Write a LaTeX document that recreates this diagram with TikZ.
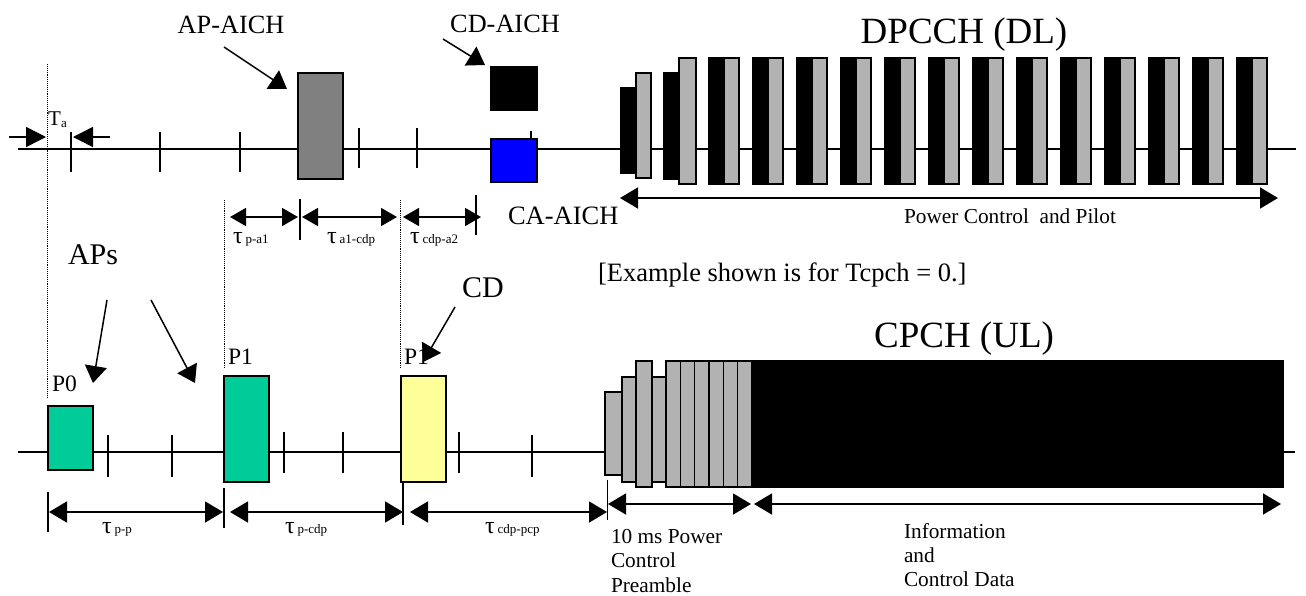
\documentclass[tikz,border=0pt]{standalone}
\usepackage{fontspec}
\setmainfont{Liberation Serif}
\usetikzlibrary{arrows.meta}
\definecolor{apgreen}{RGB}{0,204,153}
\definecolor{cdyellow}{RGB}{255,255,153}
\definecolor{midgray}{RGB}{128,128,128}
\definecolor{litegray}{RGB}{178,178,178}
\newcommand\myfs[1]{\fontsize{#1}{#1}\selectfont}
\begin{document}
\begin{tikzpicture}[x=1pt,y=-1pt,
 axisline/.style={line width=1.6pt},
 tickmark/.style={line width=1.2pt},
 bx/.style={draw=black,line width=1.4pt,inner sep=0pt,outer sep=0pt,anchor=north west},
 dotline/.style={line width=0.9pt,densely dotted},
 dimarrow/.style={line width=1.6pt,{Triangle[length=16pt,width=18pt]}-{Triangle[length=16pt,width=18pt]}},
 bigdim/.style={line width=1.6pt,{Triangle[length=18pt,width=21pt]}-{Triangle[length=18pt,width=21pt]}},
 leader/.style={line width=1.5pt,-{Triangle[length=17pt,width=22pt]}},
 taarrow/.style={line width=1.5pt,-{Triangle[length=20pt,width=20pt]}},
 lbl/.style={inner sep=0pt,outer sep=0pt,anchor=base west},
 ctr/.style={inner sep=0pt,outer sep=0pt,anchor=base},
]
\path[fill=white,use as bounding box] (0,0) rectangle (1306,595);

% ---------- time axes ----------
\coordinate (dlS) at (18,149); \coordinate (dlE) at (1296,149);
\coordinate (ulS) at (18,452); \coordinate (ulE) at (1295,452);
\draw[axisline] (dlS) -- (dlE);
\draw[axisline] (ulS) -- (ulE);

% ticks on DL axis
\foreach \x/\a/\b in {71/132/172,160/132/172,240/132/172,359/128/168,417/128/168,531/131/172}
  \draw[tickmark] (\x,\a) -- (\x,\b);
% ticks on UL axis
\foreach \x/\a/\b in {108/435/477,172/435/477,284/432/473,343/432/473,459/432/473,532/435/477}
  \draw[tickmark] (\x,\a) -- (\x,\b);

% dotted reference lines
\draw[dotline] (47,64) -- (47,397);
\draw[dotline] (224,200) -- (224,368);
\draw[dotline] (400,200) -- (400,368);

% ---------- DL boxes ----------
\node[bx,fill=midgray,minimum width=45pt,minimum height=106pt] (apaich) at (298,73) {};
\node[bx,fill=black,minimum width=46pt,minimum height=43pt] (cdaich) at (491,67) {};
\node[bx,fill=blue,minimum width=46pt,minimum height=43pt] (caaich) at (491,139) {};

% DPCCH ramp
\node[bx,fill=black,minimum width=15pt,minimum height=85pt] (db1) at (621,88) {};
\node[bx,fill=litegray,minimum width=15pt,minimum height=105pt] (dg1) at (636,73) {};
\node[bx,fill=black,minimum width=15pt,minimum height=106pt] (db2) at (664,73) {};
\node[bx,fill=litegray,minimum width=17pt,minimum height=126pt] (dg2) at (679,58) {};
\foreach \k in {0,...,12}{
  \pgfmathsetmacro\xx{709+44*\k}
  \node[bx,fill=black,minimum width=15pt,minimum height=126pt] (db\k) at (\xx,58) {};
  \node[bx,fill=litegray,minimum width=15pt,minimum height=126pt] (dgr\k) at (\xx+15,58) {};
}

% ---------- UL boxes ----------
\node[bx,fill=apgreen,minimum width=45pt,minimum height=64pt] (p0) at (48,406) {};
\node[bx,fill=apgreen,minimum width=45pt,minimum height=106pt] (p1) at (224,376) {};
\node[bx,fill=cdyellow,minimum width=45pt,minimum height=106pt] (pcd) at (401,376) {};

% CPCH power control preamble
\node[bx,fill=litegray,minimum width=17pt,minimum height=83pt] (r1) at (605,392) {};
\node[bx,fill=litegray,minimum width=14pt,minimum height=105pt] (r2) at (622,377) {};
\node[bx,fill=litegray,minimum width=14pt,minimum height=105pt] (r4) at (652,377) {};
\node[bx,fill=litegray,minimum width=16pt,minimum height=126pt] (r3) at (636,361) {};
\foreach \i in {0,...,5}{
  \pgfmathsetmacro\xx{666+14.33*\i}
  \node[bx,fill=litegray,minimum width=14.33pt,minimum height=126pt] (rp\i) at (\xx,361) {};
}
\node[bx,fill=black,minimum width=531pt,minimum height=126pt] (data) at (752,361) {};

% ---------- Ta ----------
\coordinate (taL1) at (9,137);   \coordinate (taL2) at (46,137);
\coordinate (taR1) at (110,137); \coordinate (taR2) at (73,137);
\draw[taarrow] (taL1) -- (taL2);
\draw[taarrow] (taR1) -- (taR2);
\node[lbl,font=\myfs{21}] (ta) at (48,125) {T};
\node[lbl,font=\myfs{13}] (tasub) at (61,127) {a};

% ---------- DL dimension arrows ----------
\coordinate (ua1) at (230,217); \coordinate (ua2) at (298,217);
\coordinate (ub1) at (302,217); \coordinate (ub2) at (397,217);
\coordinate (uc1) at (403,217); \coordinate (uc2) at (481,217);
\draw[dimarrow] (ua1) -- (ua2);
\draw[dimarrow] (ub1) -- (ub2);
\draw[dimarrow] (uc1) -- (uc2);
\draw[tickmark,line width=1.5pt] (300,199) -- (300,240);
\draw[tickmark,line width=1.5pt] (476,195) -- (476,235);
\coordinate (pc1) at (620,198); \coordinate (pc2) at (1278,198);
\draw[bigdim] (pc1) -- (pc2);

% ---------- UL dimension arrows ----------
\coordinate (la1) at (49,512);  \coordinate (la2) at (223,512);
\coordinate (lb1) at (230,512); \coordinate (lb2) at (403,512);
\coordinate (lc1) at (410,512); \coordinate (lc2) at (607,512);
\draw[bigdim] (la1) -- (la2);
\draw[bigdim] (lb1) -- (lb2);
\draw[bigdim] (lc1) -- (lc2);
\draw[tickmark,line width=1.5pt] (48,492) -- (48,532);
\draw[tickmark,line width=1.5pt] (224,488) -- (224,528);
\draw[tickmark,line width=1.5pt] (403,483) -- (403,525);
\draw[tickmark,line width=1.5pt] (607.5,480) -- (607.5,520);
\coordinate (pp1) at (608,504); \coordinate (pp2) at (751,504);
\coordinate (id1) at (754,504); \coordinate (id2) at (1281,504);
\draw[bigdim] (pp1) -- (pp2);
\draw[bigdim] (id1) -- (id2);

% ---------- labels ----------
\node[ctr,font=\myfs{26.3}] (lapaich) at (231,33) {AP-AICH};
\node[ctr,font=\myfs{26.3}] (lcdaich) at (505,32) {CD-AICH};
\node[lbl,font=\myfs{26.5}] (lcaaich) at (508,224) {CA-AICH};
\node[ctr,font=\myfs{37}] (ldpcch) at (964,43) {DPCCH (DL)};
\node[ctr,font=\myfs{37}] (lcpch) at (964,347) {CPCH (UL)};
\node[ctr,font=\myfs{21.3}] (lpcp) at (1010,223) {Power Control\ \ and Pilot};
\node[lbl,font=\myfs{26.5}] (lex) at (598,281) {[Example shown is for Tcpch = 0.]};
\node[lbl,font=\myfs{30}] (laps) at (68,264) {APs};
\node[lbl,font=\myfs{30}] (lcd) at (462,297) {CD};
\node[lbl,font=\myfs{23.5}] (lp0) at (52,391) {P0};
\node[lbl,font=\myfs{23.5}] (lp1) at (228,364) {P1};
\node[lbl,font=\myfs{23.5}] (lp1b) at (404,364) {P1};

\node[lbl] (tpa1) at (233,243) {{\myfs{24}τ}\hspace{3pt}{\myfs{13}p-a1}};
\node[lbl] (ta1cdp) at (327,243) {{\myfs{24}τ}\hspace{3pt}{\myfs{13}a1-cdp}};
\node[lbl] (tcdpa2) at (410,243) {{\myfs{24}τ}\hspace{3pt}{\myfs{13}cdp-a2}};
\node[lbl] (tpp) at (102,533) {{\myfs{24}τ}\hspace{3pt}{\myfs{13}p-p}};
\node[lbl] (tpcdp) at (285,533) {{\myfs{24}τ}\hspace{3pt}{\myfs{13}p-cdp}};
\node[lbl] (tcdppcp) at (485,533) {{\myfs{24}τ}\hspace{3pt}{\myfs{13}cdp-pcp}};

\node[lbl,font=\myfs{21.3}] (l10a) at (611,543) {10 ms Power};
\node[lbl,font=\myfs{21.3}] (l10b) at (611,567) {Control};
\node[lbl,font=\myfs{21.3}] (l10c) at (611,592) {Preamble};
\node[lbl,font=\myfs{21.3}] (lia) at (904,538) {Information};
\node[lbl,font=\myfs{21.3}] (lib) at (904,562) {and};
\node[lbl,font=\myfs{21.3}] (lic) at (904,586) {Control Data};

% ---------- leader arrows ----------
\coordinate (apA) at (224,47);  \coordinate (apB) at (287,89);
\coordinate (cdA) at (443,39);  \coordinate (cdB) at (485,65);
\coordinate (s0A) at (107,300); \coordinate (s0B) at (93,383);
\coordinate (s1A) at (151,300); \coordinate (s1B) at (195,383);
\coordinate (cA) at (455,307);  \coordinate (cB) at (423,362);
\draw[leader] (apA) -- (apB);
\draw[leader] (cdA) -- (cdB);
\draw[leader] (s0A) -- (s0B);
\draw[leader] (s1A) -- (s1B);
\draw[leader] (cA) -- (cB);
\end{tikzpicture}
\end{document}
